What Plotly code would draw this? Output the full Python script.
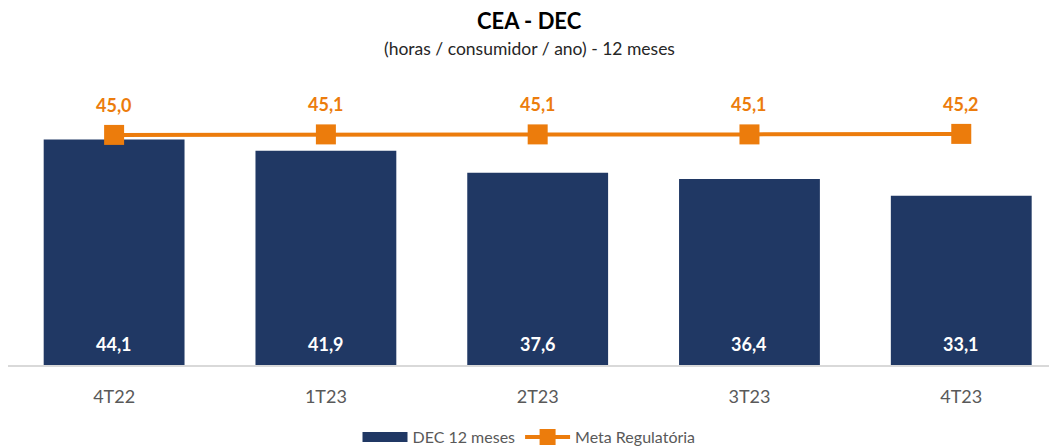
import plotly.graph_objects as go

categories = ["4T22", "1T23", "2T23", "3T23", "4T23"]
dec_values = [44.1, 41.9, 37.6, 36.4, 33.1]
meta_values = [45.0, 45.1, 45.1, 45.1, 45.2]

NAVY = "#203864"
ORANGE = "#EC7C0C"
GREY = "#595959"
FONT = "Lato"

# The page body adds an 8px offset; the figure is sized to the remaining area.
W, H = 1049, 440
M_L, M_R, M_T, M_B = 0, 7, 72, 82.5
PLOT_H = H - M_T - M_B


def fmt(v):
    return f"{v:.1f}".replace(".", ",")


def paper_y(px_from_top):
    return 1 + (M_T - px_from_top) / PLOT_H


fig = go.Figure()
fig.add_trace(go.Bar(
    x=categories, y=dec_values, name="DEC 12 meses",
    marker=dict(color=NAVY, line=dict(width=0)), width=0.665,
    hoverinfo="skip", showlegend=False, legendgroup="dec",
))
# legend swatch for the bars (wide rectangle like the original)
fig.add_trace(go.Scatter(
    x=[None], y=[None], name="DEC 12 meses", mode="lines",
    line=dict(color=NAVY, width=10), legendgroup="dec", hoverinfo="skip",
))
fig.add_trace(go.Scatter(
    x=categories, y=meta_values, name="Meta Regulatória",
    mode="lines+markers",
    line=dict(color=ORANGE, width=4),
    marker=dict(symbol="square", size=20, color=ORANGE),
    hoverinfo="skip",
))

annotations = []
for c, v in zip(categories, dec_values):
    annotations.append(dict(x=c, y=0, xref="x", yref="y", text=f"<b>{fmt(v)}</b>",
                            showarrow=False, yshift=21, yanchor="middle",
                            font=dict(family=FONT, size=18, color="white")))
for c, v in zip(categories, meta_values):
    annotations.append(dict(x=c, y=v, xref="x", yref="y", text=f"<b>{fmt(v)}</b>",
                            showarrow=False, yshift=30, yanchor="middle",
                            font=dict(family=FONT, size=18, color=ORANGE)))
annotations.append(dict(x=0.5, y=paper_y(12), xref="paper", yref="paper",
                        yanchor="middle", showarrow=False,
                        text="<b>CEA - DEC</b>",
                        font=dict(family=FONT, size=22, color="black")))
annotations.append(dict(x=0.5, y=paper_y(40), xref="paper", yref="paper",
                        yanchor="middle", showarrow=False,
                        text="(horas / consumidor / ano) - 12 meses",
                        font=dict(family=FONT, size=17.5, color="#262626")))

fig.update_layout(
    width=W, height=H,
    margin=dict(l=M_L, r=M_R, t=M_T, b=M_B, pad=0),
    paper_bgcolor="white", plot_bgcolor="white",
    font=dict(family=FONT, color=GREY),
    showlegend=True,
    legend=dict(orientation="h", x=0.5, xanchor="center",
                yref="container", y=(H - 429) / H, yanchor="middle",
                font=dict(family=FONT, size=16, color=GREY), itemwidth=45,
                traceorder="normal"),
    xaxis=dict(type="category", range=[-0.501, 4.419], showgrid=False,
               showline=True, linecolor="#D9D9D9", linewidth=1.5,
               ticks="", tickfont=dict(family=FONT, size=18, color=GREY),
               ticklabelstandoff=15, fixedrange=True),
    yaxis=dict(range=[0, 55.74], visible=False, showgrid=False, zeroline=False,
               fixedrange=True),
    annotations=annotations,
)

fig.write_html("out.html")
